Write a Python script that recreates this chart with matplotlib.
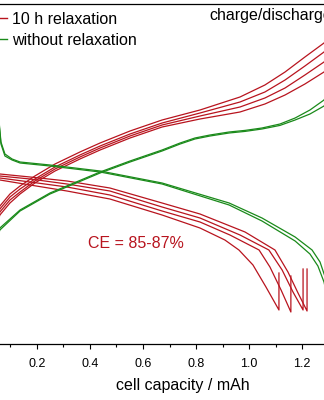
import matplotlib
matplotlib.use("Agg")
import matplotlib.pyplot as plt
from matplotlib.ticker import MultipleLocator, FixedLocator

plt.rcParams['font.family'] = ['Liberation Sans', 'DejaVu Sans']

RED = '#b8141e'
GREEN = '#1a8a1a'

# cycles with 10 h relaxation: charge curves (capacity / mAh, voltage / V)
cap_chg = [0.000, 0.023, 0.042, 0.060, 0.098, 0.136, 0.192, 0.268, 0.362, 0.438,
           0.551, 0.672, 0.815, 0.966, 1.060, 1.136, 1.211, 1.283, 1.325]
v_chg_1 = [1.41, 1.545, 1.63, 1.69, 1.75, 1.79, 1.84, 1.90, 1.96, 2.005,
           2.065, 2.12, 2.17, 2.235, 2.295, 2.36, 2.435, 2.505, 2.57]
v_chg_2 = [1.39, 1.52, 1.61, 1.675, 1.735, 1.775, 1.825, 1.885, 1.945, 1.99,
           2.05, 2.105, 2.155, 2.21, 2.26, 2.32, 2.39, 2.46, 2.52]
v_chg_3 = [1.37, 1.50, 1.59, 1.66, 1.72, 1.76, 1.815, 1.875, 1.935, 1.98,
           2.04, 2.095, 2.14, 2.185, 2.23, 2.28, 2.345, 2.41, 2.47]
v_chg_4 = [1.35, 1.48, 1.575, 1.645, 1.705, 1.75, 1.805, 1.865, 1.925, 1.97,
           2.03, 2.085, 2.125, 2.16, 2.20, 2.245, 2.30, 2.36, 2.42]

# discharge curves, last point = voltage after the 10 h rest
cap_dis_1 = [0.000, 0.015, 0.038, 0.060, 0.174, 0.313, 0.475, 0.672, 0.815, 0.909,
             0.962, 1.015, 1.064, 1.113, 1.113]
v_dis_1 = [1.96, 1.88, 1.84, 1.82, 1.795, 1.765, 1.725, 1.645, 1.58, 1.52,
           1.47, 1.395, 1.285, 1.17, 1.355]
cap_dis_2 = [0.000, 0.015, 0.038, 0.060, 0.174, 0.313, 0.475, 0.672, 0.815, 0.928,
             1.038, 1.079, 1.121, 1.158, 1.158]
v_dis_2 = [1.97, 1.89, 1.85, 1.83, 1.81, 1.785, 1.745, 1.665, 1.61, 1.545,
           1.47, 1.385, 1.27, 1.16, 1.34]
cap_dis_3 = [0.000, 0.015, 0.038, 0.060, 0.174, 0.313, 0.475, 0.672, 0.815, 0.966,
             1.075, 1.125, 1.166, 1.204, 1.204]
v_dis_3 = [1.98, 1.90, 1.86, 1.84, 1.825, 1.80, 1.765, 1.685, 1.63, 1.545,
           1.47, 1.37, 1.26, 1.17, 1.375]
cap_dis_4 = [0.000, 0.015, 0.038, 0.060, 0.174, 0.313, 0.475, 0.672, 0.815, 0.985,
             1.098, 1.147, 1.185, 1.219, 1.219]
v_dis_4 = [1.99, 1.91, 1.87, 1.85, 1.835, 1.815, 1.78, 1.705, 1.65, 1.56,
           1.47, 1.36, 1.255, 1.165, 1.375]

# cycles without relaxation
cap_g_dis_1 = [0.049, 0.057, 0.064, 0.079, 0.106, 0.136, 0.249, 0.438, 0.672, 0.925,
               1.049, 1.174, 1.238, 1.268, 1.291, 1.313]
v_g_dis_1 = [2.245, 2.11, 2.01, 1.95, 1.925, 1.91, 1.895, 1.865, 1.805, 1.705,
             1.63, 1.535, 1.47, 1.41, 1.32, 1.17]
cap_g_dis_2 = [0.049, 0.057, 0.064, 0.079, 0.106, 0.136, 0.249, 0.438, 0.672, 0.925,
               1.049, 1.174, 1.230, 1.260, 1.283, 1.306]
v_g_dis_2 = [2.235, 2.10, 2.00, 1.94, 1.92, 1.905, 1.89, 1.86, 1.80, 1.695,
             1.615, 1.515, 1.45, 1.39, 1.31, 1.17]
cap_g_chg = [0.000, 0.030, 0.060, 0.136, 0.249, 0.438, 0.551, 0.672, 0.740, 0.796,
             0.853, 0.925, 0.985, 1.049, 1.117, 1.174, 1.230, 1.283, 1.325]
v_g_chg_1 = [1.27, 1.47, 1.58, 1.67, 1.755, 1.86, 1.915, 1.97, 2.005, 2.03,
             2.045, 2.06, 2.068, 2.08, 2.10, 2.13, 2.17, 2.22, 2.32]
v_g_chg_2 = [1.26, 1.46, 1.57, 1.665, 1.75, 1.855, 1.91, 1.965, 2.0, 2.025,
             2.04, 2.055, 2.063, 2.075, 2.093, 2.12, 2.15, 2.19, 2.27]

xticks = [0.0, 0.2, 0.4, 0.6, 0.8, 1.0, 1.2]

fig = plt.figure(figsize=(3.24, 4.0), dpi=100)
ax = fig.add_axes([-0.0494, 0.14, 1.2269, 0.85])

lw = 0.9
for v in [v_chg_1, v_chg_2, v_chg_3, v_chg_4]:
    ax.plot(cap_chg, v, color=RED, lw=lw)
for c, v in [(cap_dis_1, v_dis_1), (cap_dis_2, v_dis_2),
             (cap_dis_3, v_dis_3), (cap_dis_4, v_dis_4)]:
    ax.plot(c, v, color=RED, lw=lw)
for c, v in [(cap_g_dis_1, v_g_dis_1), (cap_g_dis_2, v_g_dis_2)]:
    ax.plot(c, v, color=GREEN, lw=lw)
for v in [v_g_chg_1, v_g_chg_2]:
    ax.plot(cap_g_chg, v, color=GREEN, lw=lw)

# legend handles
l1, = ax.plot([], [], color=RED, lw=1.0)
l2, = ax.plot([], [], color=GREEN, lw=1.0)
fig.legend([l1, l2], ['10 h relaxation', 'without relaxation'],
           loc='upper left', bbox_to_anchor=(-0.0765, 0.97), frameon=False,
           fontsize=11.5, borderpad=0, borderaxespad=0, handlelength=2.0,
           handletextpad=0.3, labelspacing=0.35)

ax.text(0.574, 1.48, 'CE = 85-87%', color=RED, fontsize=11.5,
        ha='center', va='baseline')
ax.text(0.849, 2.62, 'charge/discharge', color='black', fontsize=11.5,
        ha='left', va='baseline')

ax.set_xlim(0, 1.5)
ax.set_ylim(1.0, 2.7)
ax.xaxis.set_major_locator(FixedLocator(xticks))
ax.set_xticklabels([''] + [f'{t:.1f}' for t in xticks[1:]])
ax.xaxis.set_minor_locator(MultipleLocator(0.1))
ax.tick_params(axis='x', which='major', direction='out', length=3.6, width=0.8,
               labelsize=9, pad=6.5)
ax.tick_params(axis='x', which='minor', direction='out', length=2.2, width=0.8)
ax.tick_params(axis='y', left=False, labelleft=False)
for s in ax.spines.values():
    s.set_linewidth(0.9)
ax.set_xlabel('cell capacity / mAh', fontsize=11.5, labelpad=5.5)

fig.savefig('out.png', dpi=100)
